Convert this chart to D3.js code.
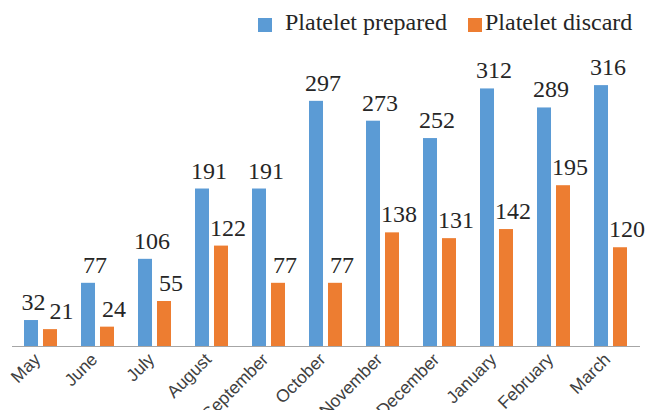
<!DOCTYPE html>
<html>
<head>
<meta charset="utf-8">
<script src="https://cdn.jsdelivr.net/npm/d3@7"></script>
<style>
  html, body { margin: 0; padding: 0; background: #fff; }
</style>
</head>
<body>
<div id="chart"></div>
<script>
// ---------------------------------------------------------------------------
// DATA
// ---------------------------------------------------------------------------
const months    = ["May", "June", "July", "August", "September", "October",
                   "November", "December", "January", "February", "March"];
const prepared  = [32, 77, 106, 191, 191, 297, 273, 252, 312, 289, 316];
const discarded = [21, 24, 55, 122, 77, 77, 138, 131, 142, 195, 120];
const seriesNames = ["Platelet prepared", "Platelet discard"];
const seriesColors = ["#5b9bd5", "#ed7d31"];

const rows = months.map((m, i) => ({ month: m, values: [prepared[i], discarded[i]] }));

// ---------------------------------------------------------------------------
// SETUP
// ---------------------------------------------------------------------------
const W = 649, H = 410;
const baseY = 346.5;

const svg = d3.select("#chart").append("svg")
    .attr("width", W)
    .attr("height", H)
    .style("font-family", "'Liberation Serif', 'Times New Roman', serif");

const x = d3.scaleBand()
    .domain(months)
    .range([12, 639]);

const xs = d3.scaleBand()
    .domain([0, 1])
    .range([0, x.bandwidth()])
    .paddingInner(0.263)
    .paddingOuter(0.632);

const y = d3.scaleLinear()
    .domain([0, 350])
    .range([baseY, baseY - 289.5]);

// ---------------------------------------------------------------------------
// BARS
// ---------------------------------------------------------------------------
const groups = svg.selectAll("g.month")
    .data(rows)
    .join("g")
    .attr("class", "month")
    .attr("transform", d => `translate(${x(d.month)},0)`);

groups.selectAll("rect")
    .data(d => d.values)
    .join("rect")
    .attr("x", (d, i) => xs(i))
    .attr("width", xs.bandwidth())
    .attr("y", d => y(d))
    .attr("height", d => baseY - y(d))
    .attr("fill", (d, i) => seriesColors[i]);

// Value labels: nudged right like the original, pushed apart if they collide
groups.each(function (d) {
    const g = d3.select(this);
    const labels = d.values.map((v, i) => g.append("text")
        .attr("x", xs(i) + xs.bandwidth() / 2 + 7)
        .attr("y", y(v) - 10)
        .attr("text-anchor", "middle")
        .style("font-size", "24px")
        .attr("fill", "#262626")
        .text(v));

    const b0 = labels[0].node().getBBox();
    const b1 = labels[1].node().getBBox();
    const vOverlap = !(b0.y + b0.height < b1.y || b1.y + b1.height < b0.y);
    const gap = 4;
    const over = b0.x + b0.width + gap - b1.x;
    if (vOverlap && over > 0) {
        labels[0].attr("x", +labels[0].attr("x") - over / 2);
        labels[1].attr("x", +labels[1].attr("x") + over / 2);
    }
});

// ---------------------------------------------------------------------------
// AXIS
// ---------------------------------------------------------------------------
svg.append("line")
    .attr("x1", 12).attr("x2", 640)
    .attr("y1", baseY).attr("y2", baseY)
    .attr("stroke", "#a6a6a6")
    .attr("stroke-width", 1.2);

// Rotated month labels (the longer ones run off the bottom, as in the original)
svg.selectAll("text.xlab")
    .data(months)
    .join("text")
    .attr("class", "xlab")
    .attr("transform", d => `translate(${x(d) + x.bandwidth() / 2 + 1},${baseY + 14}) rotate(-45)`)
    .attr("text-anchor", "end")
    .style("font-family", "'Liberation Sans', Arial, sans-serif")
    .style("font-size", "17.5px")
    .attr("fill", "#404040")
    .text(d => d);

// ---------------------------------------------------------------------------
// LEGEND
// ---------------------------------------------------------------------------
const legendX = [258, 468];
const legend = svg.selectAll("g.legend")
    .data(seriesNames)
    .join("g")
    .attr("class", "legend")
    .attr("transform", (d, i) => `translate(${legendX[i]},18)`);

legend.append("rect")
    .attr("width", 14).attr("height", 14)
    .attr("fill", (d, i) => seriesColors[i]);

legend.append("text")
    .attr("x", (d, i) => i === 0 ? 27 : 17)
    .attr("y", 12)
    .style("font-size", "24px")
    .attr("fill", "#262626")
    .text(d => d);
</script>
</body>
</html>
